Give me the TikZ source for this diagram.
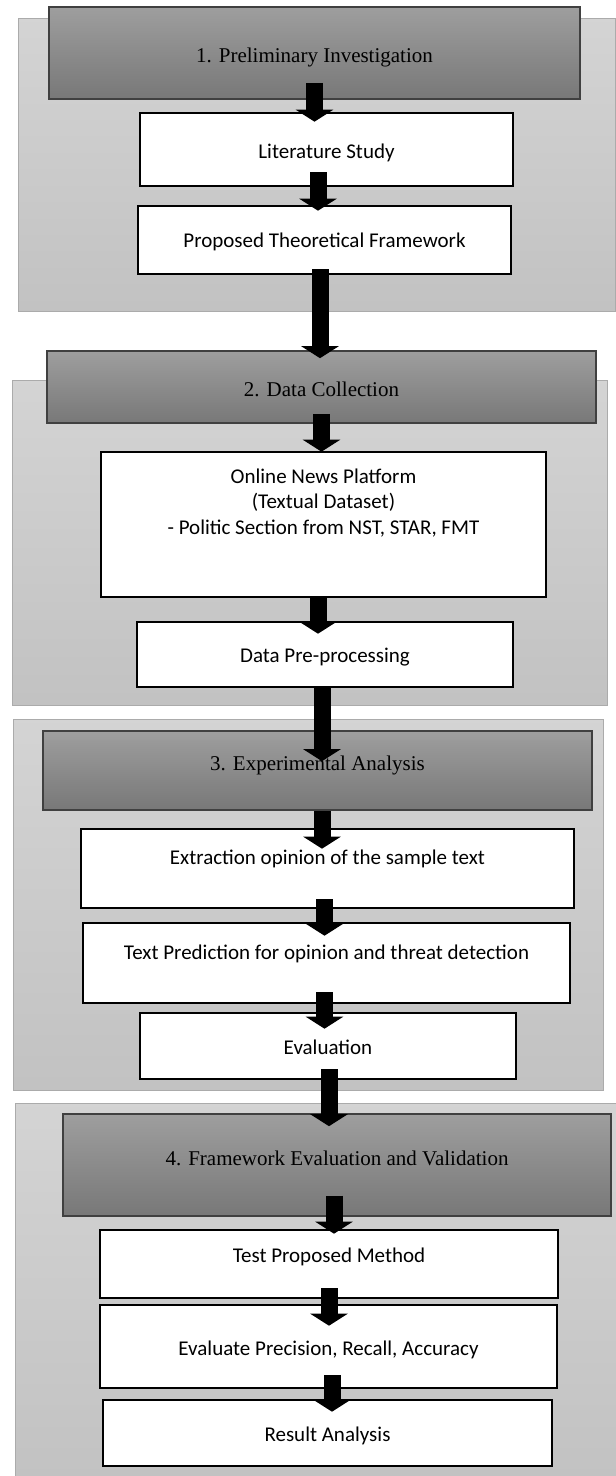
\documentclass[tikz,border=0pt]{standalone}
\usepackage{fontspec}
\setmainfont{Liberation Serif}
\newfontfamily\boxfont{Carlito}
\usetikzlibrary{calc,arrows.meta}

\tikzset{
  panel/.style={draw=black!33, line width=1.2pt, top color=black!17, bottom color=black!24,
    anchor=north west, inner sep=0pt},
  phase/.style={draw=black!75, line width=1.6pt, top color=black!38, bottom color=black!53,
    anchor=base, inner sep=0pt, font=\fontsize{21}{25.5}\selectfont},
  stepbox/.style={draw=black, line width=2.6pt, fill=white, anchor=base, inner sep=0pt,
    font=\boxfont\fontsize{21}{25.5}\selectfont},
  flow/.style={line width=17pt, draw=black, -{Triangle[width=37pt,length=12pt]}}
}

\begin{document}
\begin{tikzpicture}[x=1pt, y=-1pt]
\useasboundingbox (0,0) rectangle (616,1476);

% grey stage panels
\node[panel, minimum width=597pt, minimum height=293pt] (p1) at (18,18) {};
\node[panel, minimum width=595pt, minimum height=325pt] (p2) at (12,380) {};
\node[panel, minimum width=590pt, minimum height=371pt] (p3) at (13,719) {};
\node[panel, minimum width=605pt, minimum height=380pt] (p4) at (15,1103) {};

% stage headers
\node[phase, minimum width=531pt, text height=55.5pt, text depth=36.5pt] (h1) at (314.5,62.5) {1. Preliminary Investigation};
\node[phase, minimum width=549pt, text height=45pt, text depth=27pt] (h2) at (321.5,396) {2. Data Collection};
\node[phase, minimum width=549pt, text height=39pt, text depth=40pt] (h3) at (317.5,770) {3. Experimental Analysis};
\node[phase, minimum width=548pt, text height=51pt, text depth=51pt] (h4) at (337,1165) {4. Framework Evaluation and Validation};

% stage 1
\node[stepbox, minimum width=373pt, text height=45pt, text depth=28pt] (lit) at (326.5,158) {Literature Study};
\node[stepbox, minimum width=373pt, text height=41pt, text depth=27pt] (prop) at (324.5,247) {Proposed Theoretical Framework};

% stage 2
\node[stepbox, minimum width=445pt, text height=31pt, text depth=114pt] (online) at (323.5,483)
  {\begin{tabular}[t]{@{}c@{}}Online News Platform\\(Textual Dataset)\\- Politic Section from NST, STAR, FMT\end{tabular}};
\node[stepbox, minimum width=376pt, text height=40pt, text depth=25pt] (pre) at (325,662) {Data Pre-processing};

% stage 3
\node[stepbox, minimum width=493pt, text height=35pt, text depth=44pt] (ext) at (327.5,864) {Extraction opinion of the sample text};
\node[stepbox, minimum width=487pt, text height=36pt, text depth=44pt] (tp) at (326.5,959) {Text Prediction for opinion and threat detection};
\node[stepbox, minimum width=376pt, text height=41pt, text depth=25pt] (eval) at (328,1054) {Evaluation};

% stage 4
\node[stepbox, minimum width=458pt, text height=32pt, text depth=36pt] (test) at (329,1262) {Test Proposed Method};
\node[stepbox, minimum width=457pt, text height=50pt, text depth=33pt] (evalp) at (328.5,1355) {Evaluate Precision, Recall, Accuracy};
\node[stepbox, minimum width=449pt, text height=41pt, text depth=25pt] (result) at (327.5,1441) {Result Analysis};

% block arrows
\draw[flow] ($(h1.south)+(0,-17)$) -- ($(lit.north)+(-12,10)$);
\draw[flow] ($(lit.south)+(-8.5,-15)$) -- ($(prop.north)+(-6.5,6)$);
\draw[flow] ($(prop.south)+(-4.5,-6)$) -- ($(h2.north)+(-1.5,8)$);
\draw[flow] ($(h2.south)+(0,-10)$) -- ($(online.north)+(-2,1)$);
\draw[flow] ($(online.south)+(-5.5,0)$) -- ($(pre.north)+(-7,13)$);
\draw[flow] ($(pre.south)+(-3,0)$) -- ($(h3.north)+(4.5,31)$);
\draw[flow] ($(h3.south)+(4.5,0)$) -- ($(ext.north)+(-5.5,21)$);
\draw[flow] ($(ext.south)+(-3,-10)$) -- ($(tp.north)+(-2,14)$);
\draw[flow] ($(tp.south)+(-2,-12)$) -- ($(eval.north)+(-3.5,17)$);
\draw[flow] ($(eval.south)+(1,-11)$) -- ($(h4.north)+(-8,13)$);
\draw[flow] ($(h4.south)+(-3,-21)$) -- ($(test.north)+(5,5)$);
\draw[flow] ($(test.south)+(0,-11)$) -- ($(evalp.north)+(0.5,22)$);
\draw[flow] ($(evalp.south)+(3.5,-14)$) -- ($(result.north)+(4.5,13)$);
\end{tikzpicture}
\end{document}
